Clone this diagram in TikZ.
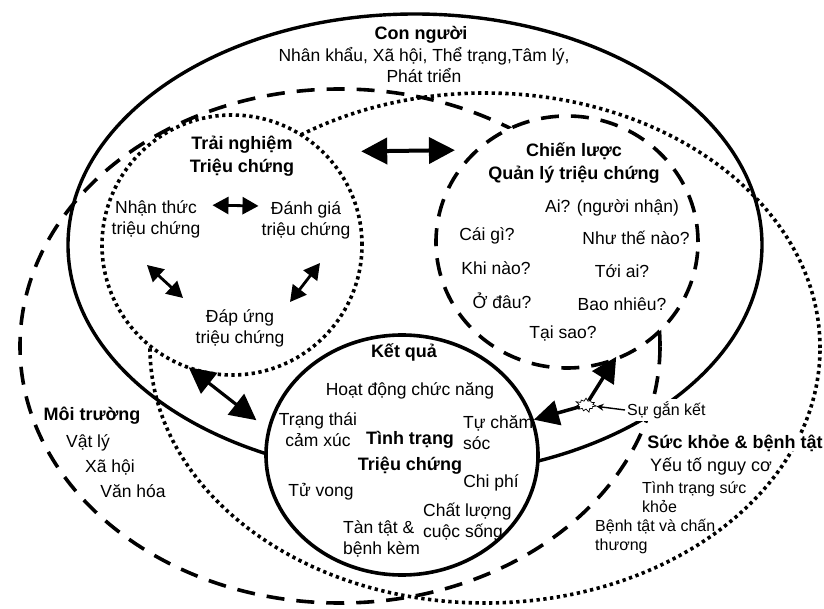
\documentclass[tikz,border=0pt]{standalone}
\usepackage{fontspec}
\setmainfont{Liberation Sans}
\usetikzlibrary{arrows.meta,shapes.geometric,shapes.symbols}
\tikzstyle{txt} = [align=center, inner sep=0pt, font=\fontsize{17.5}{21}\selectfont]
\tikzstyle{headtxt} = [align=center, inner sep=0pt, font=\fontsize{18}{23.5}\selectfont\bfseries]
\tikzstyle{smalltxt} = [align=left, inner sep=0pt, font=\fontsize{16}{19}\selectfont]
\tikzstyle{zone} = [ellipse, inner sep=0pt, draw]
\tikzstyle{solidline} = [line width=3.4pt]
\tikzstyle{dashline} = [line width=3.6pt, dash pattern=on 18pt off 12pt]
\tikzstyle{dotline} = [line width=3.6pt, dash pattern=on 3.3pt off 3.5pt]
\tikzstyle{bigarrow} = [line width=4pt, {Triangle[length=26pt,width=26pt]}-{Triangle[length=26pt,width=26pt]}]
\tikzstyle{onearrow} = [line width=3.5pt, -{Triangle[length=25pt,width=25pt]}]
\tikzstyle{smallarrow} = [line width=2.8pt, {Triangle[length=16pt,width=17pt]}-{Triangle[length=16pt,width=17pt]}]
\begin{document}
\begin{tikzpicture}[x=1pt, y=-1pt]
    \useasboundingbox (0,0) rectangle (824,609);

    % outer domains
    \node [zone, dotline, minimum width=670pt, minimum height=510pt] (health) at (485,348) {};
    \node [zone, dashline, minimum width=640pt, minimum height=514pt] (env) at (340,346) {};
    \node [zone, solidline, minimum width=694pt, minimum height=462pt] (person) at (415,245) {};
    % inner circles
    \node [zone, dotline, fill=white, minimum width=260pt, minimum height=260pt] (tn) at (232,245) {};
    \node [zone, dashline, fill=white, minimum width=262pt, minimum height=252pt] (cl) at (567,242) {};
    \node [zone, line width=3.6pt, fill=white, minimum width=272pt, minimum height=240pt] (kq) at (402,455) {};

    % person
    \node [headtxt] (cnhead) at (421,35) {Con người};
    \node [txt] (cnlist) at (424,65) {Nhân khẩu, Xã hội, Thể trạng,Tâm lý,\\Phát triển};

    % symptom experience
    \node [headtxt] (tnhead) at (242,156) {Trải nghiệm\\Triệu chứng};
    \node [txt] (nt) at (156,219) {Nhận thức\\triệu chứng};
    \node [txt] (dg) at (306,220) {Đánh giá\\triệu chứng};
    \node [txt] (du) at (240,328) {Đáp ứng\\triệu chứng};
    \coordinate (nt-du) at (147,265);
    \coordinate (du-nt) at (183,298);
    \coordinate (dg-du) at (320,263);
    \coordinate (du-dg) at (290,302);
    \draw [smallarrow, shorten <=12pt, shorten >=3pt] ([yshift=14pt]nt.east) -- ([yshift=14pt]dg.west);
    \draw [smallarrow] (nt-du) -- (du-nt);
    \draw [smallarrow] (dg-du) -- (du-dg);

    % management strategies
    \node [headtxt] (clhead) at (574,163) {Chiến lược\\Quản lý triệu chứng};
    \node [txt] (who) at (612,208) {Ai? (người nhận)};
    \node [txt] (what) at (487,236) {Cái gì?};
    \node [txt] (how) at (636,238) {Như thế nào?};
    \node [txt] (when) at (496,268) {Khi nào?};
    \node [txt] (towhom) at (622,271) {Tới ai?};
    \node [txt] (where) at (502,301) {Ở đâu?};
    \node [txt] (howmuch) at (622,304) {Bao nhiêu?};
    \node [txt] (why) at (563,333) {Tại sao?};

    % outcomes
    \node [headtxt] (kqhead) at (404,352) {Kết quả};
    \node [txt] (func) at (410,391) {Hoạt động chức năng};
    \node [txt] (emo) at (318,430) {Trạng thái\\cảm xúc};
    \node [txt, align=left, anchor=west] (self) at (463,433) {Tự chăm\\sóc};
    \node [headtxt, font=\fontsize{18}{26}\selectfont\bfseries] (status) at (410,453) {Tình trạng\\Triệu chứng};
    \node [txt] (cost) at (491,483) {Chi phí};
    \node [txt] (death) at (321,492) {Tử vong};
    \node [txt, align=left, anchor=west] (qol) at (423,522) {Chất lượng\\cuộc sống};
    \node [txt, align=left, anchor=west] (disab) at (343,539) {Tàn tật \&\\bệnh kèm};

    % environment
    \node [headtxt] (envhead) at (92,416) {Môi trường};
    \node [txt] (phys) at (88,443) {Vật lý};
    \node [txt] (soc) at (110,467) {Xã hội};
    \node [txt] (cult) at (133,491) {Văn hóa};

    % health and illness
    \node [headtxt, fill=white] (hihead) at (735,443) {Sức khỏe \& bệnh tật};
    \node [txt, font=\fontsize{18}{21}\selectfont] (risk) at (711,466) {Yếu tố nguy cơ};
    \node [smalltxt, anchor=west] (hstat) at (642,497) {Tình trạng sức\\khỏe};
    \node [smalltxt, anchor=west] (injury) at (595,537) {Bệnh tật và chấn\\thương};

    % adherence
    \node [starburst, draw, fill=white, line width=0.7pt, starburst points=11, starburst point height=4pt,
           minimum width=22pt, minimum height=16pt, inner sep=0pt] (burst) at (586,405) {};
    \node [smalltxt, fill=white, inner sep=2pt, anchor=west] (bond) at (625,410) {Sự gắn kết};
    \draw [line width=1.4pt, -{Stealth[length=7pt,width=7pt]}] (bond.west) -- (burst);

    % big arrows between the concepts
    \draw [bigarrow, shorten <=36pt, shorten >=20pt] (tn.45) -- (cl.135);
    \draw [bigarrow, line width=3.2pt, shorten <=-6pt, shorten >=14pt] (tn.253) -- (kq.169);
    \draw [onearrow] (burst) -- (kq.15);
    \draw [onearrow, shorten >=-6pt] (burst) -- (cl.291);
\end{tikzpicture}
\end{document}
